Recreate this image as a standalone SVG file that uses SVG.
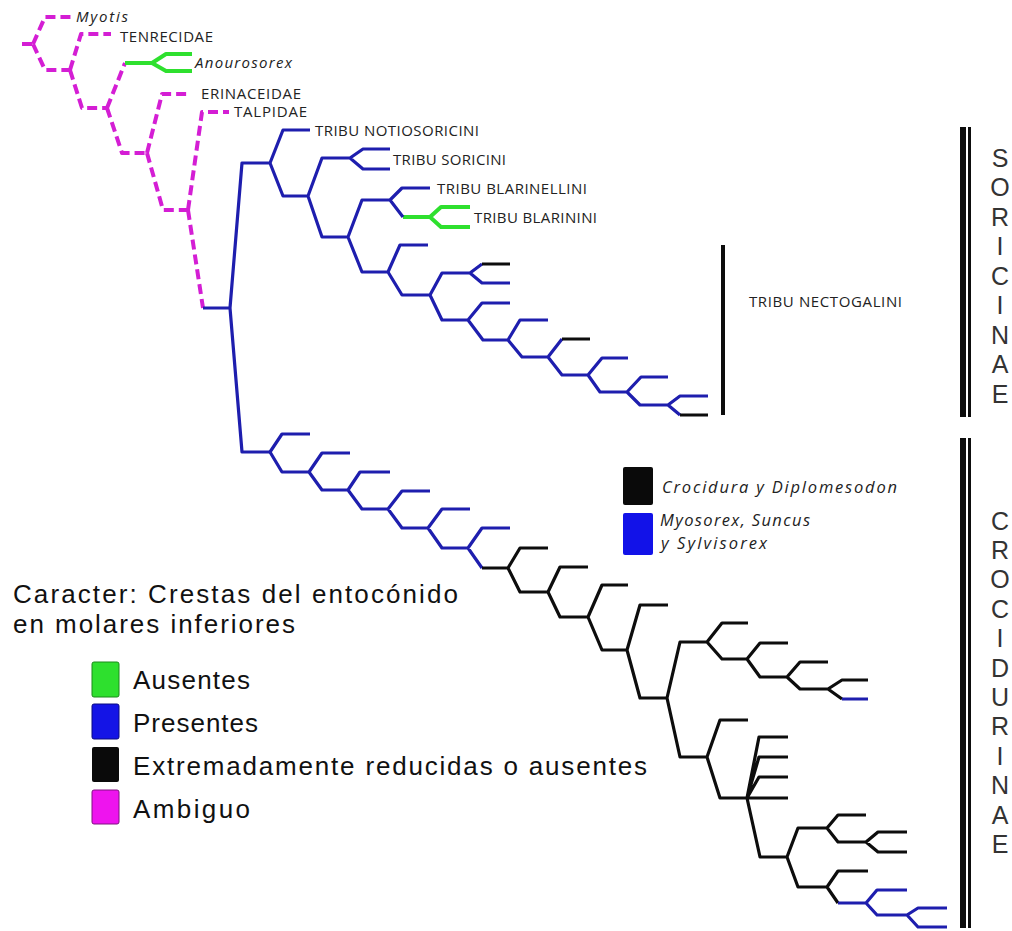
<svg xmlns="http://www.w3.org/2000/svg" width="1012" height="931" viewBox="0 0 1012 931">
<style>
.m{fill:none;stroke:#d41ed4;stroke-width:4;stroke-dasharray:10 5;stroke-linejoin:round}
.g{fill:none;stroke:#2ee02e;stroke-width:4;stroke-linejoin:round}
.b{fill:none;stroke:#1e1eae;stroke-width:3.2;stroke-linejoin:round}
.k{fill:none;stroke:#0d0d0d;stroke-width:3.2;stroke-linejoin:round}
.lbl{font-family:"Open Sans","DejaVu Sans",sans-serif;font-size:15px;fill:#222}
.it{font-style:italic}
.big{font-family:"Liberation Sans",Arial,sans-serif;font-size:26px;fill:#111}
.sub{font-family:"Liberation Sans",Arial,sans-serif;font-size:25px;fill:#333;text-anchor:middle}
.leg2{font-family:"Open Sans","DejaVu Sans",sans-serif;font-size:16.5px;font-style:italic;fill:#222}
</style>
<rect width="1012" height="931" fill="#fff"/>
<g id="connectors">
<path class="m" d="M22,44 H33 M33,44 L45,17 H75 M33,44 L45,70 H70 M70,70 L81,34 H111 M70,70 L82,108 H107 M107,108 L125,63 M107,108 L122,153 H147 M147,153 L162,94 H190 M147,153 L163,210 H188 M188,210 L202,112 H229 M188,210 L203,308"/>
<path class="g" d="M125,63 H152 M152,63 L166,54 H192 M152,63 L166,71 H192 M403,217 H430 M430,217 L441,207 H470 M430,217 L441,227 H470"/>
<path class="b" d="M203,308 H230 M230,308 L242,163 H270 M230,308 L242,452 H270 M270,163 L283,130 H310 M270,163 L283,196 H308 M308,196 L322,158 H350 M308,196 L322,237 H348 M350,158 L363,149 H390 M350,158 L363,169 H390 M348,237 L362,200 H390 M348,237 L362,272 H388 M390,200 L402,188 H430 M390,200 L403,217 M388,272 L400,245 H428 M388,272 L402,295 H430 M430,295 L442,273 H470 M430,295 L442,320 H468 M470,273 L482,264 M470,273 L482,283 H510 M468,320 L482,303 H510 M468,320 L483,340 H508 M508,340 L520,320 H548 M508,340 L522,357 H548 M548,357 L562,339 M548,357 L562,375 H588 M588,375 L602,358 H628 M588,375 L600,392 H627 M627,392 L641,377 H668 M627,392 L640,405 H668 M668,405 L680,396 H708 M668,405 L680,415"/>
<path class="k" d="M482,264 H510 M562,339 H590 M680,415 H708"/>
<path class="b" d="M270,452 L282,434 H310 M270,452 L282,472 H309 M309,472 L322,453 H350 M309,472 L322,490 H348 M348,490 L360,472 H390 M348,490 L362,509 H388 M388,509 L402,491 H430 M388,509 L402,528 H428 M428,528 L442,509 H470 M428,528 L442,548 H468 M468,548 L482,528 H510 M468,548 L482,568"/>
<path class="k" d="M482,568 H508 M508,568 L520,548 H548 M508,568 L520,592 H548 M548,592 L560,567 H588 M548,592 L560,617 H588 M588,617 L602,585 H628 M588,617 L602,650 H627 M627,650 L640,605 H668 M627,650 L640,698 H667 M667,698 L680,642 H707 M667,698 L680,757 H707 M707,642 L722,623 H748 M707,642 L722,659 H747 M747,659 L760,643 H788 M747,659 L760,677 H787 M787,677 L800,662 H828 M787,677 L800,689 H828 M828,689 L842,680 H868 M828,689 L842,699 M707,757 L720,720 H748 M707,757 L720,798 H747 M747,798 L759,737 H788 M747,798 L759,757 H788 M747,798 L759,777 H788 M747,798 H788 M747,798 L760,857 H787 M787,857 L798,828 H827 M787,857 L798,887 H827 M827,828 L838,815 H866 M827,828 L838,842 H866 M866,842 L878,832 H907 M866,842 L878,852 H907 M827,887 L838,871 H868 M827,887 L838,903"/>
<path class="b" d="M842,699 H868 M838,903 H866 M866,903 L877,890 H907 M866,903 L877,915 H907 M907,915 L918,908 H947 M907,915 L918,927 H947"/>
</g>
<g id="myotis"><text class="lbl it" x="76" y="22" textLength="52">Myotis</text></g>
<g id="tenrecidae"><text class="lbl" x="120" y="42" textLength="93">TENRECIDAE</text></g>
<g id="anourosorex"><text class="lbl it" x="195" y="68" textLength="97">Anourosorex</text></g>
<g id="erinaceidae"><text class="lbl" x="201" y="99" textLength="100">ERINACEIDAE</text></g>
<g id="talpidae"><text class="lbl" x="234" y="117" textLength="73">TALPIDAE</text></g>
<g id="notiosoricini"><text class="lbl" x="315" y="136" textLength="164">TRIBU NOTIOSORICINI</text></g>
<g id="soricini"><text class="lbl" x="393" y="165" textLength="113">TRIBU SORICINI</text></g>
<g id="blarinellini"><text class="lbl" x="437" y="194" textLength="150">TRIBU BLARINELLINI</text></g>
<g id="blarinini"><text class="lbl" x="474" y="223" textLength="123">TRIBU BLARININI</text></g>
<g id="nectogalini"><rect x="721" y="245" width="4" height="170" fill="#0d0d0d"/><text class="lbl" x="749" y="307" textLength="153">TRIBU NECTOGALINI</text></g>
<g id="soricinae">
<rect x="960" y="127" width="6" height="290" fill="#0d0d0d"/><rect x="968" y="127" width="3" height="290" fill="#0d0d0d"/>
<text class="sub" x="1000" y="166.5">S</text><text class="sub" x="1000" y="196">O</text><text class="sub" x="1000" y="225.5">R</text><text class="sub" x="1000" y="255">I</text><text class="sub" x="1000" y="284.5">C</text><text class="sub" x="1000" y="314">I</text><text class="sub" x="1000" y="343.5">N</text><text class="sub" x="1000" y="373">A</text><text class="sub" x="1000" y="402.5">E</text>
</g>
<g id="crocidurinae">
<rect x="960" y="438" width="6" height="490" fill="#0d0d0d"/><rect x="968" y="438" width="3" height="490" fill="#0d0d0d"/>
<text class="sub" x="1000" y="529.5">C</text><text class="sub" x="1000" y="558.9">R</text><text class="sub" x="1000" y="588.3">O</text><text class="sub" x="1000" y="617.7">C</text><text class="sub" x="1000" y="647.1">I</text><text class="sub" x="1000" y="676.5">D</text><text class="sub" x="1000" y="705.9">U</text><text class="sub" x="1000" y="735.3">R</text><text class="sub" x="1000" y="764.7">I</text><text class="sub" x="1000" y="794.1">N</text><text class="sub" x="1000" y="823.5">A</text><text class="sub" x="1000" y="852.9">E</text>
</g>
<g id="legend-crocidurinae">
<rect x="623" y="467" width="30" height="38" rx="2" fill="#0a0a0a"/>
<rect x="623" y="513" width="30" height="42" rx="2" fill="#1212e8"/>
<text class="leg2" x="662" y="493" textLength="235">Crocidura y Diplomesodon</text>
<text class="leg2" x="660" y="526" textLength="150">Myosorex, Suncus</text>
<text class="leg2" x="661" y="549" textLength="106">y Sylvisorex</text>
</g>
<g id="legend">
<text class="big" x="13" y="603" textLength="445">Caracter: Crestas del entocónido</text>
<text class="big" x="13" y="633" textLength="282">en molares inferiores</text>
<rect x="92" y="662" width="27" height="35" rx="2" fill="#2ee02e" stroke="#1a8a1a" stroke-width="1"/>
<rect x="92" y="704" width="27" height="35" rx="2" fill="#1414e6" stroke="#0a0a80" stroke-width="1"/>
<rect x="92" y="747" width="27" height="35" rx="2" fill="#0a0a0a"/>
<rect x="92" y="790" width="27" height="34" rx="2" fill="#ee14ee" stroke="#801080" stroke-width="1"/>
<text class="big" x="133" y="689" textLength="117">Ausentes</text>
<text class="big" x="133" y="732" textLength="125">Presentes</text>
<text class="big" x="133" y="775" textLength="514">Extremadamente reducidas o ausentes</text>
<text class="big" x="133" y="818" textLength="117">Ambiguo</text>
</g>
</svg>
